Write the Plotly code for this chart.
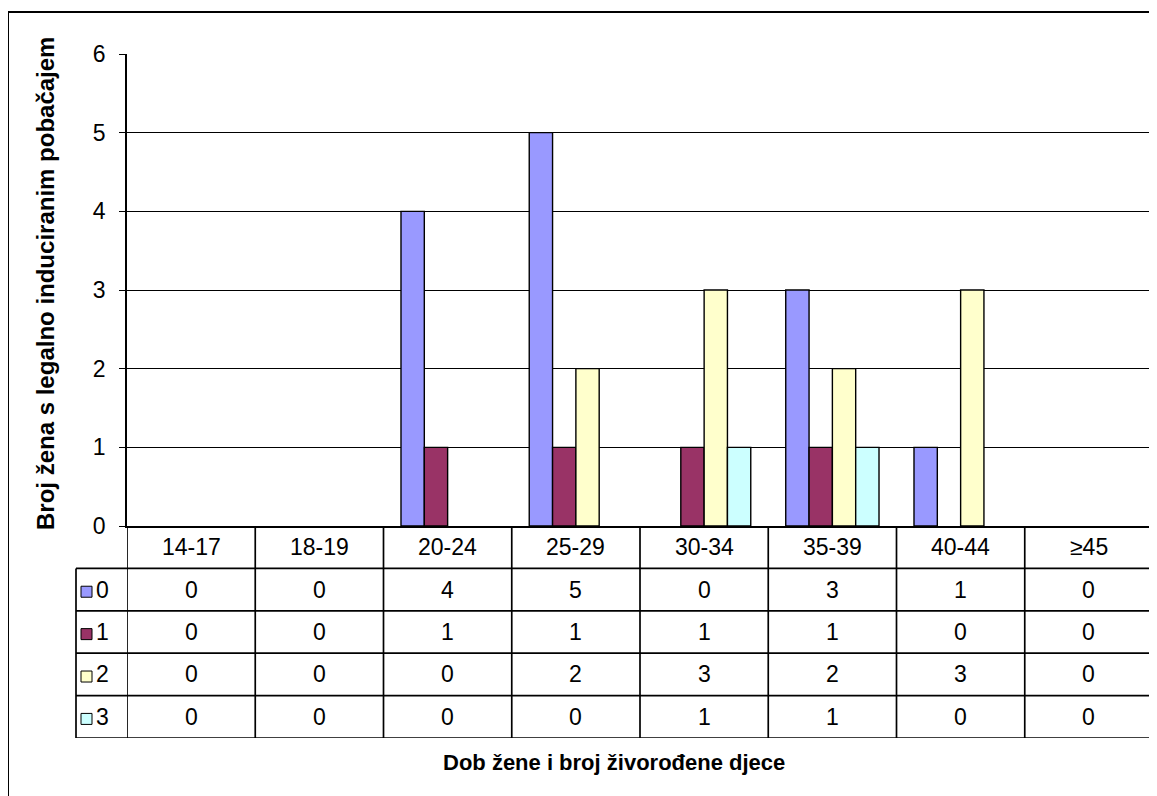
import plotly.graph_objects as go

categories = ["14-17", "18-19", "20-24", "25-29", "30-34", "35-39", "40-44", "≥45"]
series_names = ["0", "1", "2", "3"]
values_0 = [0, 0, 4, 5, 0, 3, 1, 0]
values_1 = [0, 0, 1, 1, 1, 1, 0, 0]
values_2 = [0, 0, 0, 2, 3, 2, 3, 0]
values_3 = [0, 0, 0, 0, 1, 1, 0, 0]
series_values = [values_0, values_1, values_2, values_3]
colors = ["#9999FF", "#993366", "#FFFFCC", "#CCFFFF"]
y_ticks = [0, 1, 2, 3, 4, 5, 6]
y_title = "Broj žena s legalno induciranim pobačajem"
x_title = "Dob žene i broj živorođene djece"

FONT = "Liberation Sans, Arial, sans-serif"
FS = 23
FS_XT = 22
FS_YT = 24
OFF = 8  # browser body margin
W, H = 1157 - OFF, 796 - OFF
# reference pixel geometry
PL, PR, PT, PB = 127, 1153, 54, 738
L, T = PL - OFF, PT - OFF
R = W - (PR - OFF)
B = H - (PB - OFF)
plot_w = W - L - R
plot_h = H - T - B
table_h = PB - 526
split = table_h / plot_h
n_rows = 1 + len(series_names)


def px_x(px):
    return (px - PL) / plot_w


def px_y(py):
    return (PB - py) / plot_h


fig = go.Figure()
for name, vals, c in zip(series_names, series_values, colors):
    fig.add_trace(go.Bar(
        x=categories, y=[v if v else None for v in vals], name=name, showlegend=False,
        marker=dict(color=c, line=dict(color="black", width=1.4)),
        hoverinfo="x+y+name",
    ))

# invisible anchor trace for the table axis
fig.add_trace(go.Scatter(x=[categories[0]], y=[0.5], yaxis="y2", mode="markers",
                         marker=dict(opacity=0), showlegend=False, hoverinfo="skip"))

shapes = []
annotations = []
LW = 1.7
TL = 76  # table left edge (px)
for r in range(1, n_rows + 1):
    shapes.append(dict(type="line", xref="paper", yref="y2",
                       x0=px_x(TL), x1=1, y0=r, y1=r,
                       line=dict(color="black", width=LW)))
for i in range(len(categories) + 1):
    shapes.append(dict(type="line", xref="x", yref="y2",
                       x0=i - 0.5, x1=i - 0.5, y0=0, y1=n_rows,
                       line=dict(color="black", width=LW)))
shapes.append(dict(type="line", xref="paper", yref="y2",
                   x0=px_x(TL), x1=px_x(TL), y0=1, y1=n_rows,
                   line=dict(color="black", width=LW)))

for i, cat in enumerate(categories):
    annotations.append(dict(x=i, y=0.5, xref="x", yref="y2", text=cat,
                            xanchor="center", yanchor="middle",
                            showarrow=False, font=dict(size=FS, color="black")))
row_px = table_h / n_rows
for r, (name, vals, c) in enumerate(zip(series_names, series_values, colors), start=1):
    for i, v in enumerate(vals):
        annotations.append(dict(x=i, y=r + 0.5, xref="x", yref="y2", text=str(v),
                                xanchor="center", yanchor="middle",
                                showarrow=False, font=dict(size=FS, color="black")))
    half = 5.5 / row_px
    shapes.append(dict(type="rect", xref="paper", yref="y2",
                       x0=px_x(81), x1=px_x(92), y0=r + 0.55 - half, y1=r + 0.55 + half,
                       fillcolor=c, line=dict(color="black", width=1)))
    annotations.append(dict(x=px_x(94), y=r + 0.5, xref="paper", yref="y2", text=name,
                            xanchor="left", yanchor="middle", showarrow=False,
                            font=dict(size=FS, color="black")))

annotations.append(dict(x=px_x(45), y=px_y(284), xref="paper", yref="paper",
                        xanchor="center", yanchor="middle",
                        text="<b>" + y_title + "</b>", textangle=-90, showarrow=False,
                        font=dict(size=FS_YT, color="black")))
annotations.append(dict(x=px_x(614), y=px_y(762), xref="paper", yref="paper",
                        xanchor="center", yanchor="middle",
                        text="<b>" + x_title + "</b>", showarrow=False,
                        font=dict(size=FS_XT, color="black")))

# outer chart border (partly cropped in the reference)
shapes.append(dict(type="rect", xref="paper", yref="paper",
                   x0=px_x(8), x1=px_x(1175), y0=px_y(12), y1=px_y(815),
                   line=dict(color="black", width=2)))

fig.update_layout(
    width=W, height=H,
    margin=dict(l=L, r=R, t=T, b=B, pad=0),
    paper_bgcolor="white", plot_bgcolor="white",
    font=dict(family=FONT, size=FS, color="black"),
    barmode="group", bargap=1.5 / 5.5, bargroupgap=0,
    xaxis=dict(type="category", range=[-0.5, len(categories) - 0.5],
               showticklabels=False, ticks="", showgrid=False,
               showline=True, linecolor="black", linewidth=1.7,
               anchor="y", fixedrange=True),
    yaxis=dict(domain=[split, 1], range=[0, 6], tickvals=y_ticks,
               ticks="outside", ticklen=6, tickcolor="black", tickwidth=1.4,
               showgrid=True, gridcolor="black", gridwidth=1.3,
               showline=True, linecolor="black", linewidth=1.7,
               zeroline=False, ticklabelstandoff=9,
               tickfont=dict(size=FS), fixedrange=True),
    yaxis2=dict(domain=[0, split], range=[n_rows, 0], visible=False,
                anchor="x", fixedrange=True),
    shapes=shapes, annotations=annotations,
)

fig.write_html("out.html")
